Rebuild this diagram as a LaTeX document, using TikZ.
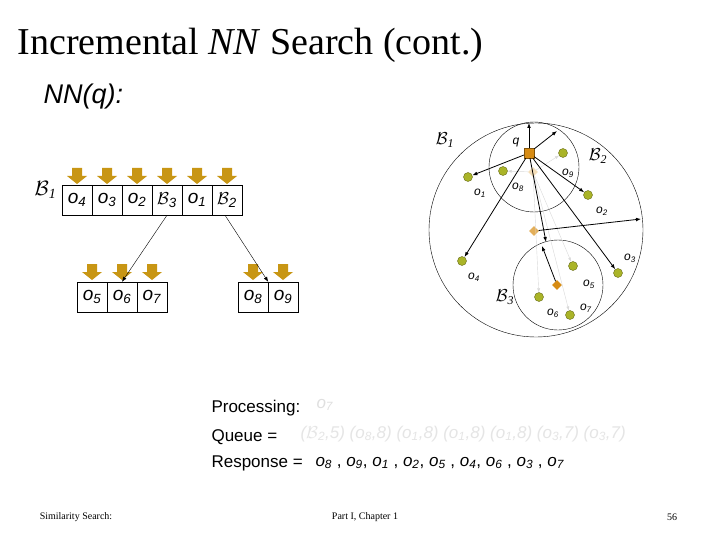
\documentclass[tikz,border=0pt]{standalone}
\usepackage{fontspec}
\setmainfont{Liberation Serif}
\setsansfont{Liberation Sans}
\usetikzlibrary{arrows.meta,shapes.geometric}
\definecolor{gold}{RGB}{200,150,20}
\definecolor{olive}{RGB}{170,180,40}
\definecolor{qorange}{RGB}{215,140,20}
\newcommand{\ob}[1]{\textit{o}\textsubscript{\textit{#1}}}
\newcommand{\Bc}[1]{$\mathcal{B}$\textsubscript{\textit{#1}}}
\newcommand{\fs}[1]{\fontsize{#1}{#1}\selectfont}
\begin{document}
\begin{tikzpicture}[x=1pt,y=-1pt,font=\sffamily,
  cell/.style={draw,minimum width=30pt,minimum height=30pt,inner sep=0pt,font=\sffamily\fs{19}},
  pt/.style={circle,fill=olive,draw=olive!60!black,minimum size=9pt,inner sep=0pt},
  dia/.style={diamond,fill=qorange,minimum size=10pt,inner sep=0pt},
  lab/.style={font=\sffamily\fs{12}},
  blk/.style={thick,-{Latex[length=5pt]}},
  gry/.style={gray!30,-{Latex[length=4pt]}},
  goldarr/.pic={\fill[gold] (-5,-8)--(5,-8)--(5,0)--(10,0)--(0,8)--(-10,0)--(-5,0)--cycle;}]
\useasboundingbox (0,0) rectangle (720,540);
\fill[white] (0,0) rectangle (720,540);
\node[anchor=west,font=\rmfamily\fs{38}] (title) at (14,45) {Incremental \textit{NN} Search (cont.)};
\node[anchor=west,font=\sffamily\itshape\fs{27}] (nnq) at (40,97) {NN(q):};
% top row
\node[anchor=east,font=\fs{20}] (b1l) at (60,190) {\Bc{1}};
\foreach \t [count=\i] in {\ob{4},\ob{3},\ob{2},\Bc{3},\ob{1},\Bc{2}} {
  \node[cell] (t\i) at ({47+30*\i},200) {\t};
  \pic at ({47+30*\i},176) {goldarr};
}
\foreach \t [count=\i] in {\ob{5},\ob{6},\ob{7}} {
  \node[cell] (l\i) at ({62+30*\i},297) {\t};
  \pic at ({62+30*\i},272) {goldarr};
}
\foreach \t [count=\i] in {\ob{8},\ob{9}} {
  \node[cell] (r\i) at ({223+30*\i},297) {\t};
  \pic at ({223+30*\i},272) {goldarr};
}
\draw[blk,thin] (t4.south) -- (l2.north);
\draw[blk,thin] ([xshift=-2pt]t6.south) -- (r1.north east);
% circles
\node[circle,draw,minimum size=214pt,inner sep=0pt] (c1) at (536,230) {};
\node[circle,draw,minimum size=90pt,inner sep=0pt] (c2) at (534,167) {};
\node[circle,draw,minimum size=90pt,inner sep=0pt] (c3) at (558,285) {};
\node[pt] (o8) at (503,171) {};
\node[pt] (o9) at (563,153) {};
\node[pt] (o1) at (468,177) {};
\node[pt] (o2) at (588,195) {};
\node[pt] (o3) at (618,273) {};
\node[pt] (o4) at (462,261) {};
\node[pt] (o5) at (573,266) {};
\node[pt] (o6) at (539,297) {};
\node[pt] (o7) at (570,315) {};
\node[dia,fill=qorange!30] (d2) at (533,172) {};
\node[dia,fill=qorange!70] (d1) at (534,231) {};
\node[dia] (d3) at (557,285) {};
\node[rectangle,fill=qorange,draw=qorange!60!black,minimum size=10pt,inner sep=0pt] (q) at (529,153) {};
\coordinate (e1) at (529,123);
\coordinate (e2) at (557,131);
\coordinate (e3) at (641,219);
\coordinate (e4) at (546,242);
\coordinate (e5) at (542,246);
% grey arrows
\draw[gry] (d2) -- (o9);
\draw[gry] (d2) -- (o8);
\draw[gry] (d2) -- (o6);
\draw[gry] (d2) -- (o5);
\draw[gry] (d2) -- (o7);
% black arrows
\draw[blk] (q) -- (e1);
\draw[blk] (q) -- (e2);
\draw[blk] (q) -- (o1);
\draw[blk] (q) -- (o2);
\draw[blk] (q) -- (o3);
\draw[blk] (q) -- (o4);
\draw[blk] (q) -- (e4);
\draw[blk] (d1) -- (e3);
\draw[blk] (d3) -- (e5);
% labels
\node[font=\fs{17}] (lb1) at (445,140) {\Bc{1}};
\node[font=\fs{17}] (lb2) at (598,156) {\Bc{2}};
\node[font=\fs{17}] (lb3) at (505,297) {\Bc{3}};
\node[lab] (lq) at (516,143) {\textit{q}};
\node[lab] (l9) at (568,173) {\ob{9}};
\node[lab] (l8) at (518,187) {\ob{8}};
\node[lab] (lo1) at (480,193) {\ob{1}};
\node[lab] (lo2) at (602,211) {\ob{2}};
\node[lab] (lo3) at (630,258) {\ob{3}};
\node[lab] (lo4) at (474,277) {\ob{4}};
\node[lab] (lo5) at (589,284) {\ob{5}};
\node[lab] (lo6) at (553,313) {\ob{6}};
\node[lab] (lo7) at (586,308) {\ob{7}};
% bottom text
\node[anchor=west,font=\sffamily\fs{17}] (proc) at (208,408) {Processing:};
\node[anchor=west,font=\sffamily\fs{17},gray!25] (procv) at (313,405) {\ob{7}};
\node[anchor=west,font=\sffamily\fs{17}] (queue) at (208,437) {Queue =};
\node[anchor=west,font=\sffamily\fs{17}\itshape,gray!20] (queuev) at (297,434) {(\Bc{2},5) (o\textsubscript{8},8) (o\textsubscript{1},8) (o\textsubscript{1},8) (o\textsubscript{1},8) (o\textsubscript{3},7) (o\textsubscript{3},7)};
\node[anchor=west,font=\sffamily\fs{17}] (resp) at (208,463) {Response =};
\node[anchor=west,font=\sffamily\fs{17}] (respv) at (312,463) {\ob{8} , \ob{9}, \ob{1} , \ob{2}, \ob{5} , \ob{4}, \ob{6} , \ob{3} , \ob{7}};
% footer
\node[font=\rmfamily\fs{10}] (f1) at (76,517) {Similarity Search:};
\node[font=\rmfamily\fs{10}] (f2) at (365,517) {Part I, Chapter 1};
\node[font=\rmfamily\fs{10}] (f3) at (672,517) {56};
\end{tikzpicture}
\end{document}
